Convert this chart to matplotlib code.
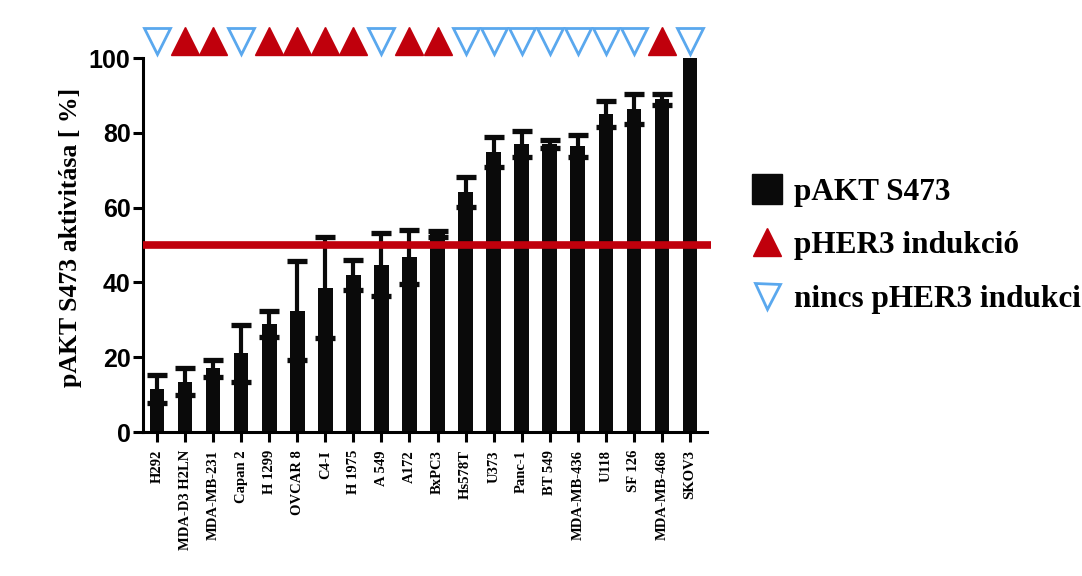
import numpy as np
import matplotlib.pyplot as plt
from matplotlib.lines import Line2D

cell_lines = ['H292', 'MDA-D3 H2LN', 'MDA-MB-231', 'Capan 2', 'H 1299', 'OVCAR 8',
              'C4-I', 'H 1975', 'A 549', 'A172', 'BxPC3', 'Hs578T', 'U373', 'Panc-1',
              'BT 549', 'MDA-MB-436', 'U118', 'SF 126', 'MDA-MB-468', 'SKOV3']
pakt_mean = [11.5, 13.5, 17.0, 21.0, 28.8, 32.5, 38.6, 42.0, 44.8, 46.8,
             53.0, 64.2, 75.0, 77.0, 77.0, 76.5, 85.0, 86.5, 89.0, 100.0]
pakt_sd = [3.7, 3.5, 2.3, 7.5, 3.5, 13.3, 13.5, 4.0, 8.3, 7.3,
           0.8, 4.0, 4.0, 3.5, 1.0, 3.0, 3.5, 4.0, 1.5, 0.0]
# 1 = pHER3 induction, 0 = no induction
her3_induction = [0, 1, 1, 0, 1, 1, 1, 1, 0, 1, 1, 0, 0, 0, 0, 0, 0, 0, 1, 0]
threshold = 50

red = '#c0000c'
blue = '#5aa8ee'
serif = 'Liberation Serif'
sans = 'Liberation Sans'

fig = plt.figure(figsize=(10.82, 5.76), dpi=100)
ax = fig.add_axes([0.1322, 0.25, 0.521, 0.649])

x = np.arange(len(cell_lines))
mean = np.array(pakt_mean)
sd = np.array(pakt_sd)
ind = np.array(her3_induction)

ax.bar(x, mean, width=0.52, color='#0a0a0a', zorder=2)
m = sd > 0
ax.errorbar(x[m], mean[m], yerr=sd[m], fmt='none', ecolor='#0a0a0a',
            elinewidth=3, capsize=7.5, capthick=3.8, zorder=3)

ax.plot([-0.5, 19.75], [threshold, threshold], color=red, lw=5.5,
        solid_capstyle='butt', clip_on=False, zorder=4)

ax.plot(x[ind == 1], np.full((ind == 1).sum(), 104.5), '^', color=red,
        markersize=20, clip_on=False, zorder=5)
ax.plot(x[ind == 0], np.full((ind == 0).sum(), 104.5), 'v', mfc='none',
        mec=blue, mew=2, markersize=19, clip_on=False, zorder=5)

ax.set_xlim(-0.5, 19.6)
ax.set_ylim(0, 100)
ax.set_yticks([0, 20, 40, 60, 80, 100])
ax.set_xticks(x)
ax.set_xticklabels(cell_lines, rotation=90, fontfamily=serif,
                   fontweight='bold', fontsize=10.5)
for lab in ax.get_yticklabels():
    lab.set_fontfamily(sans)
    lab.set_fontweight('bold')
    lab.set_fontsize(18)
ax.tick_params(axis='both', direction='out', length=7, width=2.2, pad=2)
ax.tick_params(axis='x', pad=6)
for s in ['top', 'right']:
    ax.spines[s].set_visible(False)
for s in ['left', 'bottom']:
    ax.spines[s].set_linewidth(2.2)

ax.set_ylabel('pAKT S473 aktivitása [ %]', fontfamily=serif,
              fontweight='bold', fontsize=18.5)
ax.yaxis.set_label_coords(-0.108, 0.52)

handles = [
    Line2D([], [], marker='s', ls='none', color='#0a0a0a', markersize=21),
    Line2D([], [], marker='^', ls='none', color=red, markersize=20),
    Line2D([], [], marker='v', ls='none', mfc='none', mec=blue, mew=2, markersize=18),
]
labels = ['pAKT S473', 'pHER3 indukció', 'nincs pHER3 indukció']
fig.legend(handles, labels, loc='upper left', bbox_to_anchor=(0.683, 0.713),
           frameon=False, prop={'family': serif, 'weight': 'bold', 'size': 22.5},
           handlelength=1.0, handletextpad=0.35, labelspacing=0.78,
           borderaxespad=0)

fig.savefig('out.png', dpi=100)
